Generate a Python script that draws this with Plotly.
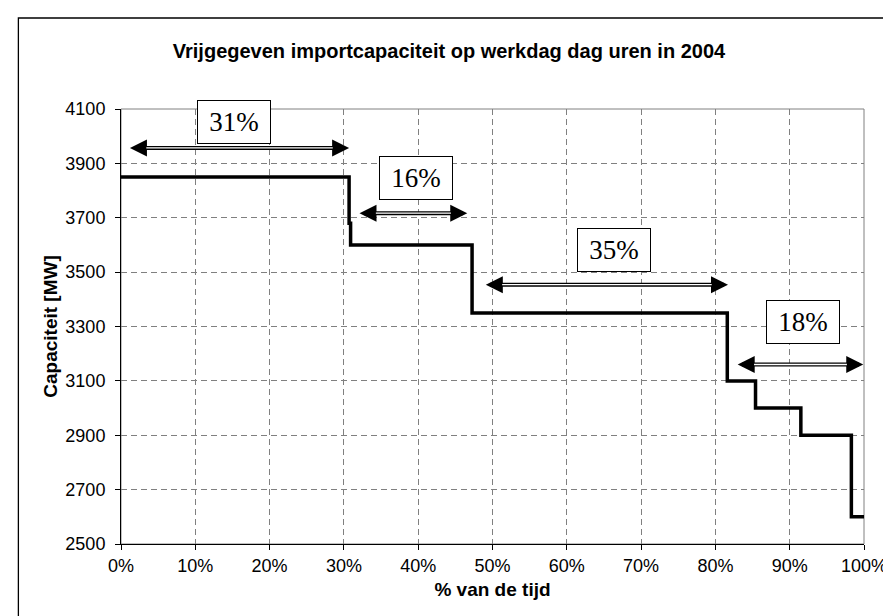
import plotly.graph_objects as go

# ---- data ----
step_x = [0, 30.7, 30.9, 47.25, 81.6, 85.4, 91.5, 98.3, 100]
step_y = [3850, 3680, 3600, 3350, 3100, 3000, 2900, 2600, 2600]

arrow_start = [1.0, 31.9, 48.9, 82.8]
arrow_end = [30.7, 46.6, 81.7, 99.9]
arrow_y = [3957, 3717, 3454, 3160]

label_text = ["31%", "16%", "35%", "18%"]
label_x = [15.25, 39.7, 66.3, 91.85]
label_y = [4052, 3848, 3582, 3317]

x_ticks = list(range(0, 101, 10))
x_ticktext = ["0%", "10%", "20%", "30%", "40%", "50%", "60%", "70%", "80%", "90%", "100%"]
y_ticks = list(range(2500, 4101, 200))

W, H = 891, 616
ML, MR, MT, MB = 113, 25, 101, 80

fig = go.Figure()
fig.add_trace(go.Scatter(
    x=step_x, y=step_y, mode="lines", line=dict(color="black", width=3.5, shape="hv"),
    hoverinfo="skip", showlegend=False))

annots = []
inset = 2.2
for xs, xe, yy in zip(arrow_start, arrow_end, arrow_y):
    annots.append(dict(x=xe, y=yy, ax=xs, ay=yy, xref="x", yref="y", axref="x", ayref="y",
                       text="", showarrow=True, arrowside="end+start", arrowhead=2,
                       startarrowhead=2, arrowwidth=4, arrowsize=0.85, startarrowsize=0.85,
                       arrowcolor="black"))
    annots.append(dict(x=xe - inset, y=yy, ax=xs + inset, ay=yy, xref="x", yref="y",
                       axref="x", ayref="y", text="", showarrow=True, arrowhead=0,
                       arrowwidth=1.4, arrowcolor="white"))
for t, xx, yy in zip(label_text, label_x, label_y):
    annots.append(dict(x=xx, y=yy, xref="x", yref="y", text=t, showarrow=False,
                       font=dict(family="Liberation Serif, Times New Roman, serif", size=27, color="black"),
                       bgcolor="white", bordercolor="black", borderwidth=1, width=70, height=40))

pw = W - ML - MR
ph = H - MT - MB

fig.update_layout(
    width=W, height=H,
    margin=dict(l=ML, r=MR, t=MT, b=MB),
    paper_bgcolor="white", plot_bgcolor="white",
    font=dict(family="Liberation Sans, Arial, sans-serif", size=18, color="black"),
    title=dict(text="<b>Vrijgegeven importcapaciteit op werkdag dag uren in 2004</b>",
               x=441 / W, xref="container", xanchor="center",
               y=1 - 43 / H, yref="container", yanchor="middle",
               font=dict(size=20, color="black")),
    xaxis=dict(range=[0, 100], tickvals=x_ticks, ticktext=x_ticktext, showgrid=True,
               gridcolor="#808080", griddash="6px,4px", gridwidth=1,
               showline=True, linecolor="black", linewidth=1,
               ticks="outside", ticklen=5, tickcolor="black", zeroline=False,
               title=dict(text="<b>% van de tijd</b>", font=dict(size=19), standoff=8)),
    yaxis=dict(range=[2500, 4100], tickvals=y_ticks, showgrid=True,
               gridcolor="#808080", griddash="6px,4px", gridwidth=1,
               showline=True, linecolor="black", linewidth=1,
               ticks="outside", ticklen=5, tickcolor="black", zeroline=False,
               ticklabelstandoff=6,
               title=dict(text="<b>Capaciteit [MW]</b>", font=dict(size=19), standoff=2)),
    annotations=annots,
    shapes=[
        dict(type="rect", xref="x domain", yref="y domain", x0=0, x1=1, y0=0, y1=1,
             line=dict(color="#808080", width=1), layer="below"),
        dict(type="rect", xref="paper", yref="paper",
             x0=(9 - ML) / pw, x1=(W + 5 - ML) / pw,
             y0=(H - MB - (H + 5)) / ph, y1=(H - MB - 10) / ph,
             line=dict(color="black", width=1.3), layer="above"),
    ],
)

fig.write_html("out.html")
